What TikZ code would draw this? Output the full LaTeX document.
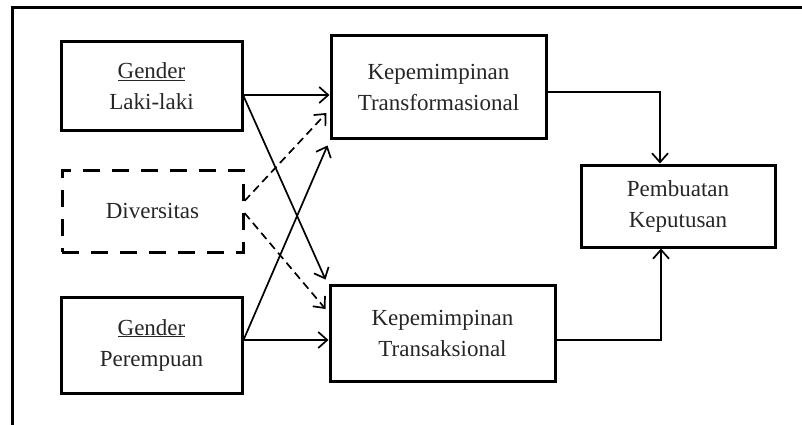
\documentclass[tikz,border=0pt]{standalone}
\usepackage{fontspec}
\setmainfont{Liberation Serif}
\usetikzlibrary{arrows.meta,calc}
\tikzstyle{vblock} = [draw,line width=3pt,align=center,text=black!85,font=\fontsize{23}{31}\selectfont]
\tikzstyle{dblock} = [vblock,dash pattern=on 17pt off 12pt]
\tikzstyle{link} = [line width=1.7pt,-{Straight Barb[length=9pt,width=16pt,line width=1.7pt]}]
\tikzstyle{dlink} = [link,dash pattern=on 8pt off 5pt]

\begin{document}
\begin{tikzpicture}[x=1pt,y=-1pt]
  \useasboundingbox (0,0) rectangle (802,425);
  % Outer frame (cut by the page)
  \draw[line width=3pt] (802,8) -| (12,425);
  % Left column
  \node[vblock,minimum width=181pt,minimum height=88pt] (lk) at (151.5,86) {\underline{Gender}\\Laki-laki};
  \node[dblock,minimum width=181pt,minimum height=82pt] (div) at (152.5,211) {Diversitas};
  \node[vblock,minimum width=181pt,minimum height=96pt] (pr) at (151.5,345) {\underline{Gender}\\Perempuan};
  % Middle column
  \node[vblock,minimum width=215pt,minimum height=102pt] (tf) at (438.5,87) {Kepemimpinan\\Transformasional};
  \node[vblock,minimum width=225pt,minimum height=96pt] (ts) at (442.5,333) {Kepemimpinan\\Transaksional};
  % Right column
  \node[vblock,minimum width=194pt,minimum height=82pt] (pk) at (678,206) {Pembuatan\\Keputusan};
  % Links
  \draw[link] ($(lk.east)+(0,9)$) -- ($(tf.west)+(0,8)$);
  \draw[link] ($(lk.east)+(0,10)$) -- ($(ts.north west)+(-3,-4)$);
  \draw[dlink] ($(div.east)+(0,-10)$) -- ($(tf.west)+(-3,26)$);
  \draw[dlink] ($(div.east)+(0,2)$) -- ($(ts.west)+(-3,-24)$);
  \draw[link] ($(pr.east)+(0,-5)$) -- ($(tf.south west)+(-2,6)$);
  \draw[link] ($(pr.east)+(0,-5)$) -- ($(ts.west)+(0,7)$);
  \draw[link] ($(tf.east)+(0,5)$) -| ($(pk.north)+(-18,0)$);
  \draw[link] ($(ts.east)+(0,7)$) -| ($(pk.south)+(-17,0)$);
\end{tikzpicture}
\end{document}
